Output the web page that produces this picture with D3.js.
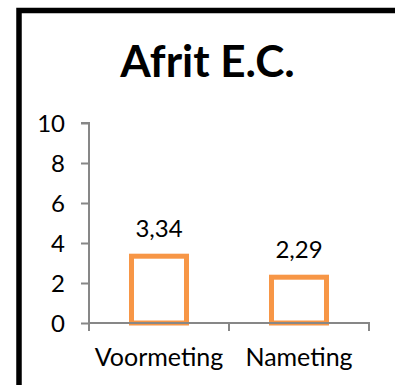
<!DOCTYPE html>
<html>
<head>
<meta charset="utf-8">
<script src="https://cdn.jsdelivr.net/npm/d3@7"></script>
<style>
  html, body { margin: 0; padding: 0; background: #fff; }
  svg { display: block; }
  text { font-family: Lato, "Open Sans", sans-serif; fill: #000; }
</style>
</head>
<body>
<svg id="chart" width="395" height="385"></svg>
<script>
// Chart data
const title = "Afrit E.C.";
const categories = ["Voormeting", "Nameting"];
const values = [3.34, 2.29];
const valueLabels = ["3,34", "2,29"];
const yTicks = [0, 2, 4, 6, 8, 10];

const svg = d3.select("#chart");
const W = 395, H = 385;
const plot = { left: 89, right: 369, top: 123, bottom: 323 };
const axisColor = "#878787";
const barColor = "#F79646";

// Outer frame (open to the right and bottom)
svg.append("rect")
  .attr("x", 19).attr("y", 10.5)
  .attr("width", W + 20).attr("height", H + 20)
  .attr("fill", "none").attr("stroke", "#000").attr("stroke-width", 5.5);

// Title
svg.append("text")
  .attr("x", 207.5).attr("y", 77)
  .attr("text-anchor", "middle")
  .style("font-size", "44px").style("font-weight", "bold")
  .text(title);

const x = d3.scaleBand().domain(categories)
  .range([plot.left, plot.right]).paddingInner(0).paddingOuter(0);
const y = d3.scaleLinear().domain([0, 10]).range([plot.bottom, plot.top]);

// Y axis
const yAxis = svg.append("g")
  .attr("transform", `translate(${plot.left},0)`)
  .call(d3.axisLeft(y).tickValues(yTicks).tickSize(8).tickPadding(16).tickFormat(d3.format("d")));
yAxis.select(".domain").attr("stroke", axisColor).attr("stroke-width", 2)
  .attr("d", `M-8,${plot.top}H0V${plot.bottom + 8}`);
yAxis.selectAll(".tick line").attr("stroke", axisColor).attr("stroke-width", 2);
yAxis.selectAll(".tick text").style("font-size", "24px").attr("dy", "0.36em");

// Bars (outlined)
const barW = 55;
svg.append("g").selectAll("rect")
  .data(values)
  .join("rect")
  .attr("x", (d, i) => x(categories[i]) + x.bandwidth() / 2 - barW / 2)
  .attr("y", d => y(d))
  .attr("width", barW)
  .attr("height", d => y(0) - y(d))
  .attr("fill", "#fff")
  .attr("stroke", barColor)
  .attr("stroke-width", 5);

// X axis (drawn over bar bottoms)
const xAxis = svg.append("g")
  .attr("transform", `translate(0,${plot.bottom})`)
  .call(d3.axisBottom(x).tickSize(0).tickPadding(0));
xAxis.select(".domain").attr("stroke", axisColor).attr("stroke-width", 2)
  .attr("d", `M${plot.left},0H${plot.right}V8`);
xAxis.selectAll(".tick text").attr("y", 43).attr("dy", 0).style("font-size", "25px");
// Category boundary ticks
svg.append("g").selectAll("line")
  .data(d3.range(categories.length + 1))
  .join("line")
  .attr("x1", i => plot.left + i * x.bandwidth())
  .attr("x2", i => plot.left + i * x.bandwidth())
  .attr("y1", plot.bottom).attr("y2", plot.bottom + 8)
  .attr("stroke", axisColor).attr("stroke-width", 2);

// Value labels
svg.append("g").selectAll("text")
  .data(values)
  .join("text")
  .attr("x", (d, i) => x(categories[i]) + x.bandwidth() / 2)
  .attr("y", d => y(d) - 19)
  .attr("text-anchor", "middle")
  .style("font-size", "24px")
  .text((d, i) => valueLabels[i]);
</script>
</body>
</html>
